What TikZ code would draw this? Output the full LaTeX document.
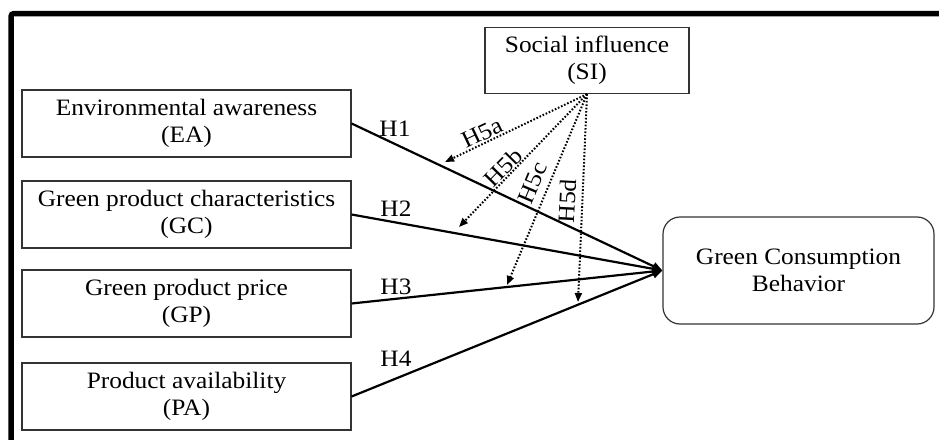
\documentclass[tikz,border=0pt]{standalone}
\usepackage{fontspec}
\setmainfont{Liberation Serif}[FakeStretch=1.08]
\usetikzlibrary{arrows.meta}
\begin{document}
\begin{tikzpicture}[x=1pt,y=1pt,
  font=\fontsize{23.5}{27}\selectfont,
  box/.style={draw=black!80,line width=1.2pt,align=center,inner sep=0pt},
  rbox/.style={box,rounded corners=17pt},
  conn/.style={line width=2.2pt,-{Triangle[length=10pt,width=8pt]}},
  dot/.style={line width=2pt,dash pattern=on 1.6pt off 1.8pt,-{Triangle[length=9pt,width=7pt]}},
  lab/.style={inner sep=0pt}]
\useasboundingbox (0,0) rectangle (939,-439);
\draw[line width=5.5pt,rounded corners=3pt] (11,-445) -- (11,-13.5) -- (945,-13.5);
\node[box,minimum width=329pt,minimum height=67pt] (ea) at (186.5,-123.5) {Environmental awareness\\(EA)};
\node[box,minimum width=329pt,minimum height=67pt] (gc) at (186.5,-214.5) {Green product characteristics\\(GC)};
\node[box,minimum width=329pt,minimum height=67pt] (gp) at (186.5,-303.5) {Green product price\\(GP)};
\node[box,minimum width=329pt,minimum height=67pt] (pa) at (186.5,-396.5) {Product availability\\(PA)};
\node[box,minimum width=204pt,minimum height=66pt] (si) at (587,-60.5) {Social influence\\(SI)};
\node[rbox,minimum width=271pt,minimum height=107pt] (gcb) at (798.5,-270.5) {Green Consumption\\Behavior};
\draw[conn] (ea.east) -- (gcb.west);
\draw[conn] (gc.east) -- (gcb.west);
\draw[conn] (gp.east) -- (gcb.west);
\draw[conn] (pa.east) -- (gcb.west);
\coordinate (ta) at (445,-162);
\coordinate (tb) at (459,-227);
\coordinate (tc) at (507,-285);
\coordinate (td) at (578,-302);
\draw[dot] (si.south) -- (ta);
\draw[dot] (si.south) -- (tb);
\draw[dot] (si.south) -- (tc);
\draw[dot] (si.south) -- (td);
\node[lab] (h1) at (395,-128.5) {H1};
\node[lab] (h2) at (396,-209) {H2};
\node[lab] (h3) at (396,-287) {H3};
\node[lab] (h4) at (396,-359) {H4};
\node[lab,rotate=25.4] (h5a) at (482,-133) {H5a};
\node[lab,rotate=45.6] (h5b) at (503,-167) {H5b};
\node[lab,rotate=67] (h5c) at (533,-183) {H5c};
\node[lab,rotate=87] (h5d) at (567,-201) {H5d};
\end{tikzpicture}
\end{document}
